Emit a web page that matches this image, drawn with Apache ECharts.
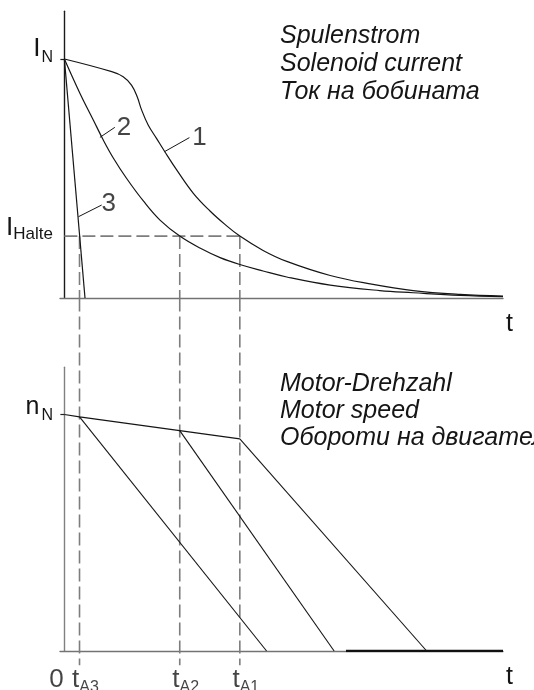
<!DOCTYPE html>
<html>
<head>
<meta charset="utf-8">
<script src="https://cdn.jsdelivr.net/npm/echarts@6/dist/echarts.min.js"></script>
<style>
  html, body { margin: 0; padding: 0; background: #ffffff; }
  #chart { width: 534px; height: 690px; }
</style>
</head>
<body>
<div id="chart"></div>
<script>
// Solenoid current, in units of the rated current I_N, over time (arbitrary units)
const currentCurve1 = [[0, 1.0], [10.8, 0.947], [13.4, 0.926], [15.3, 0.891], [16.6, 0.842],
  [17.6, 0.787], [19.1, 0.724], [21.0, 0.668], [22.9, 0.612], [25.6, 0.536], [29.4, 0.438],
  [33.2, 0.364], [36.6, 0.308], [40.0, 0.259], [45.3, 0.199], [50.7, 0.153], [60.6, 0.094],
  [69.7, 0.059], [79.5, 0.031], [90.2, 0.015], [100, 0.008]];
const currentCurve2 = [[0, 1.0], [3.56, 0.856], [6.59, 0.745], [8.87, 0.661], [11.15, 0.586],
  [14.2, 0.500], [18.0, 0.406], [21.8, 0.326], [26.3, 0.259], [30.9, 0.209], [35.5, 0.169],
  [40.0, 0.140], [45.3, 0.113], [50.7, 0.088], [60.6, 0.054], [71.9, 0.031], [79.5, 0.022],
  [90.2, 0.011], [100, 0.006]];
const currentCurve3 = [[0, 1.0], [4.7, 0]];
const curveNames = ['1', '2', '3'];
// leader line for each curve number: from a point on the curve to the number
const curveLeaders = [
  [[22.8, 0.612], [28.5, 0.671]],
  [[8.1, 0.672], [11.5, 0.714]],
  [[3.2, 0.340], [8.5, 0.389]]
];
const curveNameAt = [[30.8, 0.672], [13.6, 0.713], [10.1, 0.395]];

// holding current level and the release instants t_A3, t_A2, t_A1
const holdCurrent = 0.259;
const releaseTimes = [3.45, 26.3, 40.0];
const releaseNames = ['A3', 'A2', 'A1'];

// Motor speed, in units of the rated speed n_N
const speedBeforeRelease = [[0, 1.0], [3.45, 0.990], [26.3, 0.932], [40.0, 0.897]];
const speedAtRelease = [0.990, 0.932, 0.897];
const standstillTimes = [46.1, 61.5, 82.6];
const standstillTail = [[64.2, 0], [100, 0]];

const FONT = 'Liberation Sans, Arial, Helvetica, sans-serif';
const INK = '#151515';
const DASH = '#7d7d7d';

const chart = echarts.init(document.getElementById('chart'), null, { renderer: 'canvas' });

// rich-text pieces: a main symbol raised above the tick and a lowered subscript
const mainSym = (raise, size) => ({
  fontSize: size || 26, fontFamily: FONT, color: INK,
  verticalAlign: 'top', padding: [0, 0, raise, 0]
});
const subSym = (drop, size, left) => ({
  fontSize: size, fontFamily: FONT, color: INK,
  verticalAlign: 'top', padding: [drop, 0, 0, left || 0]
});

const series = [];

// current curves
[currentCurve1, currentCurve2, currentCurve3].forEach((d, i) => {
  series.push({
    type: 'line', xAxisIndex: 0, yAxisIndex: 0, data: d,
    showSymbol: false, smooth: i < 2 ? 0.4 : false,
    lineStyle: { color: INK, width: 1.2 }, silent: true, z: 3
  });
});
// leaders
curveLeaders.forEach(d => {
  series.push({
    type: 'line', xAxisIndex: 0, yAxisIndex: 0, data: d, showSymbol: false,
    lineStyle: { color: INK, width: 1 }, silent: true
  });
});
// curve numbers
series.push({
  type: 'scatter', xAxisIndex: 0, yAxisIndex: 0, symbolSize: 0,
  data: curveNameAt.map((p, i) => ({ value: p, name: curveNames[i] })),
  label: {
    show: true, position: 'inside', formatter: p => p.name,
    fontSize: 26, fontFamily: FONT, color: INK
  },
  silent: true
});
// holding current level
series.push({
  type: 'line', xAxisIndex: 0, yAxisIndex: 0,
  data: [[0, holdCurrent], [releaseTimes[2], holdCurrent]], showSymbol: false,
  lineStyle: { color: DASH, width: 1.6, type: [13, 5] }, silent: true, z: 1
});
// release instants, upper part
releaseTimes.forEach(t => {
  series.push({
    type: 'line', xAxisIndex: 0, yAxisIndex: 0,
    data: [[t, holdCurrent], [t, 0]], showSymbol: false,
    lineStyle: { color: DASH, width: 1.6, type: [13, 5] }, silent: true, z: 1
  });
});
// release instants, lower part (runs across the gap and below the time axis)
releaseTimes.forEach(t => {
  series.push({
    type: 'line', xAxisIndex: 1, yAxisIndex: 1, clip: false,
    data: [[t, 1.49], [t, -0.06]], showSymbol: false,
    lineStyle: { color: DASH, width: 1.6, type: [13, 5] }, silent: true, z: 1
  });
});
// motor speed
series.push({
  type: 'line', xAxisIndex: 1, yAxisIndex: 1, data: speedBeforeRelease,
  showSymbol: false, lineStyle: { color: INK, width: 1.1 }, silent: true, z: 3
});
releaseTimes.forEach((t, i) => {
  series.push({
    type: 'line', xAxisIndex: 1, yAxisIndex: 1,
    data: [[t, speedAtRelease[i]], [standstillTimes[i], 0]],
    showSymbol: false, lineStyle: { color: INK, width: 1.1 }, silent: true, z: 3
  });
});
series.push({
  type: 'line', xAxisIndex: 1, yAxisIndex: 1, data: standstillTail,
  showSymbol: false, lineStyle: { color: '#111', width: 2.4 }, silent: true, z: 4
});
// time labels under the lower axis
series.push({
  type: 'scatter', xAxisIndex: 1, yAxisIndex: 1, symbolSize: 0, clip: false,
  data: [{ value: [0, 0], name: '0', label: { offset: [-8, 0] } }].concat(
    releaseTimes.map((t, i) => ({ value: [t, 0], name: 't{s|' + releaseNames[i] + '}', label: { offset: [6, 0] } }))
  ),
  label: {
    show: true, position: 'bottom', distance: 16,
    formatter: p => p.name.startsWith('t') ? '{m|t}' + p.name.slice(1) : '{m|' + p.name + '}',
    rich: {
      m: { fontSize: 26, fontFamily: FONT, color: INK, lineHeight: 26, verticalAlign: 'top' },
      s: { fontSize: 16, fontFamily: FONT, color: INK, lineHeight: 16, verticalAlign: 'top', padding: [13, 0, 0, 0] }
    }
  },
  silent: true
});

const option = {
  animation: false,
  backgroundColor: '#ffffff',
  title: [
    {
      text: 'Spulenstrom\nSolenoid current\nТок на бобината',
      left: 280, top: 22, padding: 0,
      textStyle: { fontFamily: FONT, fontStyle: 'italic', fontWeight: 'normal', fontSize: 25, lineHeight: 28, color: INK }
    },
    {
      text: 'Motor-Drehzahl\nMotor speed\nОбороти на двигателя',
      left: 280, top: 371, padding: 0,
      textStyle: { fontFamily: FONT, fontStyle: 'italic', fontWeight: 'normal', fontSize: 25, lineHeight: 27, color: INK }
    }
  ],
  grid: [
    { left: 60, right: 31, top: 11.2, height: 286.8 },
    { left: 60, right: 31, top: 367.2, height: 286.8 }
  ],
  xAxis: [0, 1].map(g => ({
    gridIndex: g, type: 'value', min: -1, max: 100,
    axisLine: { onZero: true, lineStyle: { color: '#737373', width: 1.4 } },
    axisTick: { show: false }, axisLabel: { show: false }, splitLine: { show: false },
    name: 't', nameLocation: 'end', nameGap: 3,
    nameTextStyle: { fontFamily: FONT, fontSize: 25, color: INK, align: 'left', verticalAlign: 'top', padding: [14, 0, 0, 0] }
  })),
  yAxis: [
    {
      gridIndex: 0, type: 'value', min: 0, max: 1.2,
      axisLine: { show: true, onZero: true, lineStyle: { color: '#1a1a1a', width: 1.4 } },
      axisTick: { show: true, customValues: [1], length: 4, lineStyle: { color: '#1a1a1a', width: 1.2 } },
      axisLabel: {
        customValues: [1, holdCurrent], margin: 7,
        formatter: v => v === 1 ? '{m|I}{s|N}' : '{k|I}{h|Halte}',
        rich: { m: mainSym(21), s: subSym(14, 16, 1), k: mainSym(17), h: subSym(11, 17) }
      },
      splitLine: { show: false }
    },
    {
      gridIndex: 1, type: 'value', min: 0, max: 1.2,
      axisLine: { show: true, onZero: true, lineStyle: { color: '#808080', width: 1.4 } },
      axisTick: { show: true, customValues: [1], length: 4, lineStyle: { color: '#222', width: 1.2 } },
      axisLabel: {
        customValues: [1], margin: 7,
        formatter: () => '{m|n}{s|N}',
        rich: { m: mainSym(15, 25), s: subSym(13, 16, 2) }
      },
      splitLine: { show: false }
    }
  ],
  series: series
};

chart.setOption(option);
</script>
</body>
</html>
